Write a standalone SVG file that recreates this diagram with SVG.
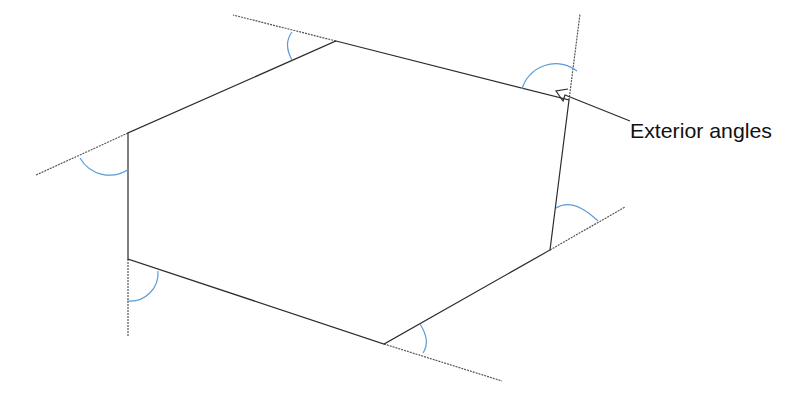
<svg xmlns="http://www.w3.org/2000/svg" width="800" height="404" viewBox="0 0 800 404">
<style>
.edge{fill:none;stroke:#2b2b2b;stroke-width:1.2}
.ext{fill:none;stroke:#555;stroke-width:1.2;stroke-dasharray:2 1}
.arc{fill:none;stroke:#5b9bd5;stroke-width:1.2}
.lbl{font-family:"Liberation Sans",Arial,sans-serif;font-size:21px;fill:#111}
</style>
<rect width="800" height="404" fill="#fff"/>
<g id="extensions">
<line class="ext" x1="336" y1="41" x2="233" y2="15"/>
<line class="ext" x1="569" y1="100" x2="580" y2="14"/>
<line class="ext" x1="550" y1="250" x2="625" y2="207"/>
<line class="ext" x1="384" y1="344" x2="502" y2="381"/>
<line class="ext" x1="128" y1="259" x2="128" y2="337"/>
<line class="ext" x1="128" y1="133" x2="36" y2="175"/>
</g>
<g id="hexagon">
<polygon class="edge" points="336,41 569,100 550,250 384,344 128,259 128,133"/>
</g>
<g id="angles">
<path class="arc" d="M292,32 Q283,44 292,60"/>
<path class="arc" d="M522,89 A35,35 0 0 1 577,71"/>
<path class="arc" d="M556,208 Q573,197 598,221"/>
<path class="arc" d="M420,324 Q431,341 423,353"/>
<path class="arc" d="M158,271 A28,28 0 0 1 127,301"/>
<path class="arc" d="M80,158 A34,34 0 0 0 129,169"/>
</g>
<g id="callout">
<path class="edge" d="M568,89 L556,91 L563,101 L565,95 L630,121"/>
<text class="lbl" x="630" y="138" textLength="142" lengthAdjust="spacingAndGlyphs">Exterior angles</text>
</g>
</svg>
